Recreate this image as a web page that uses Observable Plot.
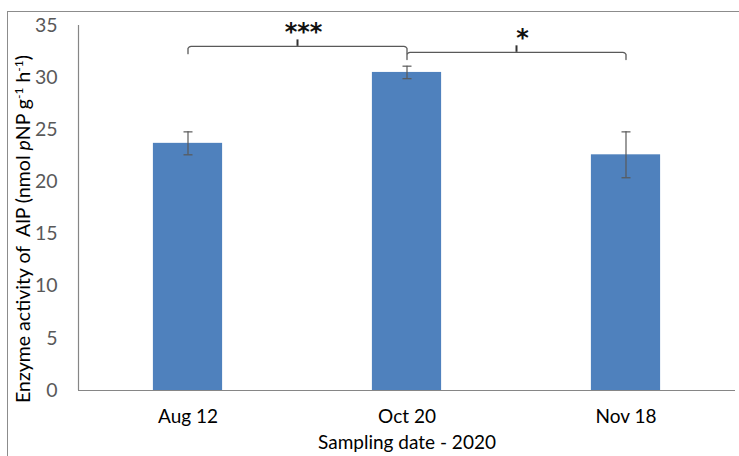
<!DOCTYPE html>
<html>
<head>
<meta charset="utf-8">
<script src="https://cdn.jsdelivr.net/npm/d3@7"></script>
<script src="https://cdn.jsdelivr.net/npm/@observablehq/plot@0.6"></script>
<style>
  html, body { margin: 0; padding: 0; background: #fff; }
  #wrap { position: relative; width: 739px; height: 456px; overflow: hidden; }
  #frame { position: absolute; left: 7px; top: 11px; width: 760px; height: 500px;
           border-left: 1px solid #8c8c8c; border-top: 1px solid #8c8c8c; pointer-events: none; }
  #chart { position: absolute; left: 0; top: 0; }
</style>
</head>
<body>
<div id="wrap"><div id="chart"></div><div id="frame"></div></div>
<script>
const categories = ["Aug 12", "Oct 20", "Nov 18"];
const means = [23.7, 30.5, 22.6];
const errors = [1.1, 0.6, 2.2];
const yTicks = [0, 5, 10, 15, 20, 25, 30, 35];

// significance brackets (between category indices, y in data units)
const bracketFrom = [0, 1];
const bracketTo = [1, 2];
const bracketY = [33.0, 32.43];
const bracketLabels = ["***", "*"];

const data = categories.map((c, i) => ({ i, cat: c, mean: means[i], err: errors[i] }));
const halfBar = 0.158;
const endDrop = 0.7;

const bracketLines = [];
bracketFrom.forEach((f, k) => {
  const t = bracketTo[k], y = bracketY[k];
  const pts = [
    [f, y - endDrop], [f, y - 0.2], [f + 0.006, y - 0.05], [f + 0.014, y],
    [t - 0.014, y], [t - 0.006, y - 0.05], [t, y - 0.2], [t, y - endDrop]
  ];
  pts.forEach(([x, yy]) => bracketLines.push({ k, x, y: yy }));
});
const bracketMids = bracketFrom.map((f, k) => ({
  x: (f + bracketTo[k]) / 2, y1: bracketY[k], y2: bracketY[k] + 0.62, label: bracketLabels[k], y: bracketY[k]
}));

const capSymbol = {
  draw(ctx, size) { ctx.moveTo(-4.5, 0); ctx.lineTo(4.5, 0); }
};

const plot = Plot.plot({
  width: 739,
  height: 456,
  marginLeft: 78,
  marginRight: 4,
  marginTop: 25,
  marginBottom: 66,
  style: { fontFamily: "Lato, sans-serif", fontSize: "19px", background: "transparent" },
  x: { domain: [-0.5, 2.5], ticks: [0, 1, 2], tickFormat: i => categories[i], label: null, axis: null },
  y: { domain: [0, 35], ticks: yTicks, label: null, axis: null },
  marks: [
    Plot.axisY({ ticks: yTicks, tickSize: 0, tickPadding: 21, fill: "#595959", fontSize: 19.5, label: null }),
    Plot.axisX({ ticks: [0, 1, 2], tickFormat: i => categories[i], tickSize: 0, tickPadding: 19, fill: "#000", fontSize: 19,
                 label: "Sampling date - 2020", labelAnchor: "center", labelArrow: "none", labelOffset: 58 }),
    Plot.rectY(data, { x1: d => d.i - halfBar, x2: d => d.i + halfBar, y: "mean", fill: "#4f81bd" }),
    Plot.ruleX(data, { x: "i", y1: d => d.mean - d.err, y2: d => d.mean + d.err, stroke: "#595959", strokeWidth: 1.2 }),
    Plot.dot(data, { x: "i", y: d => d.mean + d.err, symbol: capSymbol, stroke: "#595959", strokeWidth: 1.2, fill: "none" }),
    Plot.dot(data, { x: "i", y: d => d.mean - d.err, symbol: capSymbol, stroke: "#595959", strokeWidth: 1.2, fill: "none" }),
    Plot.ruleY([0], { stroke: "#868686", strokeWidth: 1.2 }),
    Plot.ruleX([-0.5], { y1: 0, y2: 35, stroke: "#868686", strokeWidth: 1.2 }),
    Plot.line(bracketLines, { x: "x", y: "y", z: "k", stroke: "#595959", strokeWidth: 1.3 }),
    Plot.ruleX(bracketMids, { x: "x", y1: "y1", y2: "y2", stroke: "#333", strokeWidth: 2 }),
    Plot.text(bracketMids, { x: "x", y: "y", text: "label", dy: -14, dx: 6, fontSize: 24, fontWeight: "bold", fill: "#111",
                             fontFamily: "DejaVu Sans", letterSpacing: "4px" })
  ]
});

// y-axis title with italic p and superscripts
const svg = d3.select(plot);
const t = svg.append("text")
  .attr("transform", "translate(30,229) rotate(-90)")
  .attr("text-anchor", "middle")
  .attr("font-family", "Lato, sans-serif")
  .attr("font-size", 19.5)
  .attr("fill", "#000");
t.append("tspan").text("Enzyme activity of  AlP (nmol ");
t.append("tspan").attr("font-style", "italic").text("p");
t.append("tspan").text("NP g");
t.append("tspan").attr("font-size", 12).attr("dy", -7).text("-1");
t.append("tspan").attr("dy", 7).text(" h");
t.append("tspan").attr("font-size", 12).attr("dy", -7).text("-1");
t.append("tspan").attr("dy", 7).text(")");

document.getElementById("chart").appendChild(plot);
</script>
</body>
</html>
